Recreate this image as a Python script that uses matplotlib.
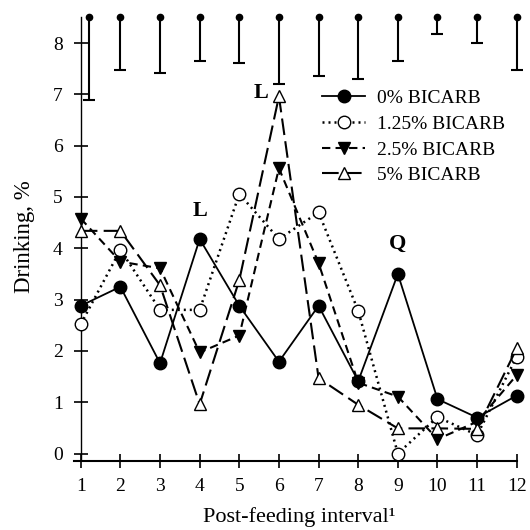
import matplotlib
matplotlib.use("Agg")
import matplotlib.pyplot as plt
import numpy as np

plt.rcParams['font.family'] = ['Liberation Serif', 'DejaVu Serif']

intervals = [1, 2, 3, 4, 5, 6, 7, 8, 9, 10, 11, 12]
bicarb_0 = [2.88, 3.25, 1.76, 4.18, 2.88, 1.79, 2.88, 1.41, 3.50, 1.06, 0.70, 1.13]
bicarb_125 = [2.52, 3.97, 2.80, 2.80, 5.06, 4.18, 4.70, 2.78, 0.00, 0.71, 0.36, 1.89]
bicarb_25 = [4.58, 3.74, 3.61, 1.97, 2.30, 5.56, 3.71, 1.38, 1.11, 0.28, 0.62, 1.53]
bicarb_5 = [4.34, 4.34, 3.28, 0.96, 3.38, 6.96, 1.47, 0.95, 0.49, 0.49, 0.48, 2.05]

err_x = [1.2, 2, 3, 4, 5, 6, 7, 8, 9, 10, 11, 12]
err_top = 8.5
sem = [1.61, 1.02, 1.09, 0.85, 0.89, 1.30, 1.15, 1.20, 0.85, 0.33, 0.50, 1.02]

series_labels = ['0% BICARB', '1.25% BICARB', '2.5% BICARB', '5% BICARB']
annotations = [('L', 4, 4.72), ('L', 5.55, 7.02), ('Q', 9, 4.08)]
x_label = 'Post-feeding interval\u00b9'
y_label = 'Drinking, %'

fig = plt.figure(figsize=(5.3, 5.3), dpi=100)
ax = fig.add_axes([0.1374, 0.1298, 0.8526, 0.847])

ms = 9
ax.plot(intervals, bicarb_0, color='black', lw=1.3, ls='-', marker='o', ms=ms,
        mfc='black', mec='black', label=series_labels[0], zorder=5)
ax.plot(intervals, bicarb_125, color='black', lw=1.8, ls=(0, (0.8, 1.6)), marker='o', ms=ms,
        mfc='white', mec='black', mew=1.0, label=series_labels[1], zorder=4)
ax.plot(intervals, bicarb_25, color='black', lw=1.5, ls=(0, (4, 2.5)), marker='v', ms=ms,
        mfc='black', mec='black', label=series_labels[2], zorder=4)
ax.plot(intervals, bicarb_5, color='black', lw=1.5, ls=(0, (8, 3)), marker='^', ms=ms,
        mfc='white', mec='black', mew=1.0, label=series_labels[3], zorder=4)

# SEM bars at top
err_x_arr = np.array(err_x)
bottoms = err_top - np.array(sem)
ax.vlines(err_x_arr, bottoms, err_top, color='black', lw=1.5)
ax.plot(err_x_arr, bottoms, ls='none', marker='_', ms=9, mew=1.5, color='black')
ax.plot(err_x_arr, [err_top] * len(err_x), ls='none', marker='o', ms=4.5, color='black')

for txt, xx, yy in annotations:
    ax.text(xx, yy, txt, fontsize=16, fontweight='bold', ha='center', va='center')

ax.set_xlim(0.8, 12.2)
ax.set_ylim(-0.15, 8.6)
ax.spines['top'].set_visible(False)
ax.spines['right'].set_visible(False)
ax.spines['left'].set_position(('data', 1))
ax.spines['left'].set_bounds(-0.1, 8.5)
ax.spines['bottom'].set_bounds(0.82, 12)
ax.spines['left'].set_linewidth(1.0)
ax.spines['bottom'].set_linewidth(1.5)

ax.set_xticks(intervals)
ax.set_yticks(range(0, 9))
ax.tick_params(axis='both', direction='inout', length=10, width=1.2, labelsize=14)
ax.tick_params(axis='y', pad=8)
ax.tick_params(axis='x', pad=7)

ax.set_xlabel(x_label, fontsize=16, labelpad=9)
ax.set_ylabel(y_label, fontsize=16.5, labelpad=13)

leg = ax.legend(loc='upper left', bbox_to_anchor=(0.531, 0.85), frameon=False, fontsize=14,
                handlelength=2.2, handletextpad=0.6, labelspacing=0.42, borderpad=0)

fig.savefig('out.png', dpi=100)
